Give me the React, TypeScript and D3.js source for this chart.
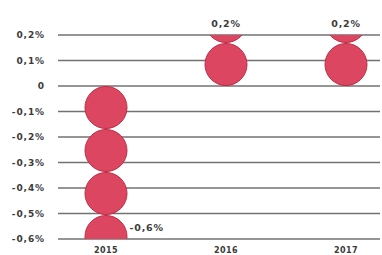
import React from "react";
import * as d3 from "d3";

const years = ["2015", "2016", "2017"];
const values = [-0.6, 0.2, 0.2];
const valueLabels = ["-0,6%", "0,2%", "0,2%"];
const yTicks = [0.2, 0.1, 0, -0.1, -0.2, -0.3, -0.4, -0.5, -0.6];
const yTickLabels = ["0,2%", "0,1%", "0", "-0,1%", "-0,2%", "-0,3%", "-0,4%", "-0,5%", "-0,6%"];

export default function App() {
  const width = 382;
  const height = 255;
  const margin = { top: 35, right: 2, bottom: 16, left: 58 };
  const font = "'DejaVu Sans', sans-serif";
  const textColor = "#3b3b3b";

  const x = d3
    .scaleBand()
    .domain(years)
    .range([46, 406])
    .padding(0);

  const y = d3
    .scaleLinear()
    .domain([-0.6, 0.2])
    .range([height - margin.bottom, margin.top]);

  const r = 21.5;
  const diam = r * 2;

  return (
    <svg
      width={width}
      height={height}
      style={{ position: "absolute", left: 0, top: 0, background: "#fff" }}
    >
      <defs>
        {years.map((yr, i) => {
          const y0 = y(0);
          const y1 = y(values[i]);
          return (
            <clipPath id={`clip-${yr}`} key={yr}>
              <rect x={0} y={Math.min(y0, y1)} width={width} height={Math.abs(y1 - y0)} />
            </clipPath>
          );
        })}
      </defs>

      {/* grid lines + tick labels */}
      {yTicks.map((t, i) => (
        <g key={t}>
          <line
            x1={margin.left}
            x2={width - margin.right}
            y1={y(t)}
            y2={y(t)}
            stroke="#727272"
            strokeWidth={1.3}
          />
          <text
            x={45}
            y={y(t)}
            dy="0.35em"
            textAnchor="end"
            fontFamily={font}
            fontWeight="bold"
            fontSize={9}
            letterSpacing={0.9}
            fill={textColor}
          >
            {yTickLabels[i]}
          </text>
        </g>
      ))}

      {/* stacked circles, clipped at the value */}
      {years.map((yr, i) => {
        const cx = x(yr)! + x.bandwidth() / 2;
        const y0 = y(0);
        const y1 = y(values[i]);
        const dir = y1 > y0 ? 1 : -1;
        const n = Math.ceil(Math.abs(y1 - y0) / diam);
        return (
          <g key={yr} clipPath={`url(#clip-${yr})`}>
            {d3.range(n).map((k) => (
              <circle
                key={k}
                cx={cx}
                cy={y0 + dir * (r + k * diam)}
                r={r - 0.5}
                fill="#dc4660"
                stroke="#bd2b44"
                strokeWidth={1}
              />
            ))}
          </g>
        );
      })}

      {/* value labels */}
      {years.map((yr, i) => {
        const cx = x(yr)! + x.bandwidth() / 2;
        const neg = values[i] < 0;
        return (
          <text
            key={yr}
            x={neg ? cx + r + 2 : cx}
            y={neg ? y(values[i]) - 11 : y(values[i]) - 8}
            dy={neg ? "0.35em" : 0}
            textAnchor={neg ? "start" : "middle"}
            fontFamily={font}
            fontWeight="bold"
            fontSize={9.5}
            letterSpacing={0.8}
            fill={textColor}
          >
            {valueLabels[i]}
          </text>
        );
      })}

      {/* x labels */}
      {years.map((yr) => (
        <text
          key={yr}
          x={x(yr)! + x.bandwidth() / 2}
          y={height - 2}
          textAnchor="middle"
          fontFamily={font}
          fontWeight="bold"
          fontSize={8}
          letterSpacing={0.4}
          fill={textColor}
        >
          {yr}
        </text>
      ))}
    </svg>
  );
}
